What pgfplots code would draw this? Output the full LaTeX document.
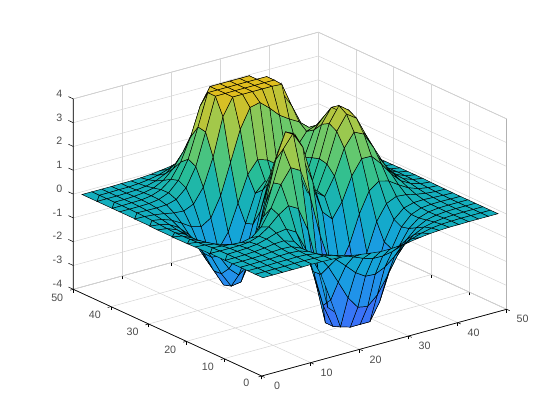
\documentclass[border=0pt]{standalone}
\usepackage{pgfplots}
\usepackage{fontspec}
\setmainfont{Liberation Sans}
\pgfplotsset{compat=1.18}
\definecolor{tl}{rgb}{0.3,0.3,0.3}
\begin{document}
\begin{tikzpicture}
\begin{axis}[
  x={(3.675pt,1.0005pt)}, y={(-2.826pt,1.3005pt)}, z={(0pt,17.85pt)},
  view={-37.5}{30},
  xmin=0,xmax=50,ymin=0,ymax=50,zmin=-4,zmax=4,
  xtick={0,10,...,50},ytick={0,10,...,50},ztick={-4,-3,...,4},
  tick pos=left,
  tick align=outside, major tick length=2.5pt,
  tick style={black,line width=0.4pt},
  ztick style={draw=none},
  grid=major, grid style={line width=0.4pt,gray!32},
  axis line style={line width=0.4pt,gray!60},
  /pgf/number format/assume math mode=true,
  tick label style={font=\fontsize{8}{9}\selectfont,text=tl},
  xticklabel style={xshift=5pt,yshift=0.8pt},
  yticklabel style={xshift=-4pt,yshift=2pt},
  zticklabel style={xshift=-2.5pt,yshift=2.5pt},
  colormap={pk}{rgb255=(65,105,250) rgb255=(50,125,245) rgb255=(30,150,232) rgb255=(20,165,215) rgb255=(20,175,190) rgb255=(40,190,150) rgb255=(100,200,110) rgb255=(170,200,70) rgb255=(225,190,30)},
  clip=false,
]
\addplot3[surf,shader=faceted,faceted color=black,line width=0.35pt,z buffer=sort,mesh/rows=25,
  point meta=z,point meta min=-4,point meta max=4]
 table[header=false,x expr={1+2*mod(\coordindex,25)},y expr={1+2*floor(\coordindex/25)},z index=0] {
0
0
0
0
0
.01
0
-.01
-.03
-.08
-.14
-.20
-.25
-.25
-.22
-.17
-.11
-.06
-.03
-.01
-.01
0
0
0
0
0
0
0
0
.01
.01
0
-.02
-.10
-.22
-.39
-.56
-.68
-.69
-.61
-.46
-.30
-.17
-.08
-.03
-.01
0
0
0
0
0
0
0
.01
.01
.02
0
-.07
-.23
-.53
-.91
-1.31
-1.57
-1.60
-1.41
-1.06
-.69
-.38
-.18
-.08
-.03
-.01
0
0
0
0
0
.01
.01
.03
.04
.01
-.12
-.44
-.99
-1.74
-2.51
-3.02
-3.10
-2.72
-2.05
-1.32
-.73
-.35
-.14
-.05
-.01
0
0
0
0
0
.01
.02
.05
.07
.05
-.13
-.59
-1.45
-2.64
-3.88
-4
-4
-4
-3.27
-2.10
-1.15
-.53
-.20
-.06
-.01
0
0
0
0
0
.01
.03
.07
.13
.15
.02
-.46
-1.48
-3.01
-4
-4
-4
-4
-4
-2.69
-1.42
-.61
-.20
-.04
0
.01
0
0
0
0
.01
.03
.08
.19
.33
.39
.15
-.68
-2.18
-4
-4
-4
-4
-4
-2.63
-1.27
-.44
-.07
.04
.05
.03
.01
0
0
-.01
-.01
-.01
.03
.17
.45
.84
1.11
.88
-.14
-1.85
-3.61
-4
-4
-3.23
-1.74
-.56
.08
.27
.23
.13
.06
.02
.01
-.01
-.02
-.06
-.10
-.13
-.04
.30
.98
1.86
2.45
2.22
1.00
-.72
-2.02
-2.22
-1.43
-.27
.58
.88
.77
.50
.26
.11
.04
.01
-.02
-.05
-.12
-.25
-.42
-.51
-.28
.49
1.78
3.09
3.63
2.94
1.40
0
-.41
.20
1.18
1.79
1.78
1.35
.82
.41
.18
.06
.02
-.03
-.08
-.20
-.44
-.80
-1.16
-1.21
-.60
.80
2.49
3.55
3.30
2.00
.70
.39
1.14
2.20
2.76
2.56
1.88
1.12
.56
.24
.09
.03
-.03
-.10
-.27
-.60
-1.14
-1.78
-2.16
-1.83
-.56
1.23
2.56
2.63
1.58
.53
.48
1.50
2.76
3.37
3.09
2.25
1.34
.67
.28
.10
.03
-.04
-.11
-.30
-.69
-1.33
-2.14
-2.77
-2.71
-1.65
.06
1.48
1.75
.98
.19
.38
1.57
2.94
3.58
3.27
2.37
1.41
.70
.30
.11
.03
-.03
-.11
-.29
-.67
-1.32
-2.16
-2.87
-2.98
-2.15
-.65
.68
1.06
.52
-.03
.28
1.47
2.76
3.36
3.06
2.22
1.32
.66
.28
.10
.03
-.03
-.09
-.25
-.57
-1.12
-1.85
-2.49
-2.64
-2.00
-.76
.39
.80
.46
.09
.38
1.34
2.38
2.83
2.56
1.85
1.09
.54
.23
.08
.02
-.02
-.07
-.18
-.42
-.82
-1.33
-1.76
-1.78
-1.16
-.05
1.04
1.55
1.42
1.12
1.17
1.65
2.17
2.32
1.99
1.40
.82
.40
.17
.06
.02
-.01
-.04
-.11
-.25
-.48
-.74
-.86
-.60
.23
1.51
2.79
3.59
3.69
3.34
2.93
2.66
2.43
2.08
1.58
1.04
.58
.28
.11
.04
.01
-.01
-.02
-.06
-.12
-.20
-.23
-.05
.55
1.70
3.29
4
4
4
4
4
3.97
2.97
2.09
1.35
.79
.41
.19
.07
.03
.01
0
-.01
-.02
-.03
-.01
.11
.48
1.27
2.61
4
4
4
4
4
4
4
3.25
2.05
1.18
.62
.29
.12
.05
.02
0
0
0
0
.01
.07
.24
.65
1.43
2.67
4
4
4
4
4
4
4
2.96
1.78
.96
.47
.21
.08
.03
.01
0
0
0
.01
.02
.08
.23
.55
1.16
2.10
3.31
4
4
4
4
4
3.37
2.21
1.29
.68
.32
.13
.05
.02
0
0
0
0
0
.02
.06
.15
.36
.74
1.32
2.07
2.84
3.43
3.65
3.43
2.84
2.09
1.36
.79
.41
.19
.08
.03
.01
0
0
0
0
0
.01
.03
.08
.19
.39
.69
1.07
1.47
1.77
1.88
1.77
1.47
1.08
.70
.40
.21
.09
.04
.01
0
0
0
0
0
0
.01
.01
.04
.09
.17
.30
.47
.64
.77
.82
.77
.64
.47
.30
.17
.09
.04
.02
.01
0
0
0
0
0
0
0
.01
.01
.03
.06
.11
.17
.23
.28
.30
.28
.23
.17
.11
.06
.03
.01
.01
0
0
0
0
};
\addplot3[black,line width=0.5pt,no marks] coordinates {(50,0,-4) (0,0,-4) (0,50,-4) (0,50,4)};
\pgfplotsinvokeforeach{-4,-3,...,4}{\addplot3[black,line width=0.4pt,no marks] coordinates {(0,50,#1) (0,51.3,#1)};}
\coordinate (O) at (axis cs:0,0,-4);
\end{axis}
\path (O) ++(-196.275pt,-33pt) rectangle ++(420pt,315pt);
\end{tikzpicture}
\end{document}
